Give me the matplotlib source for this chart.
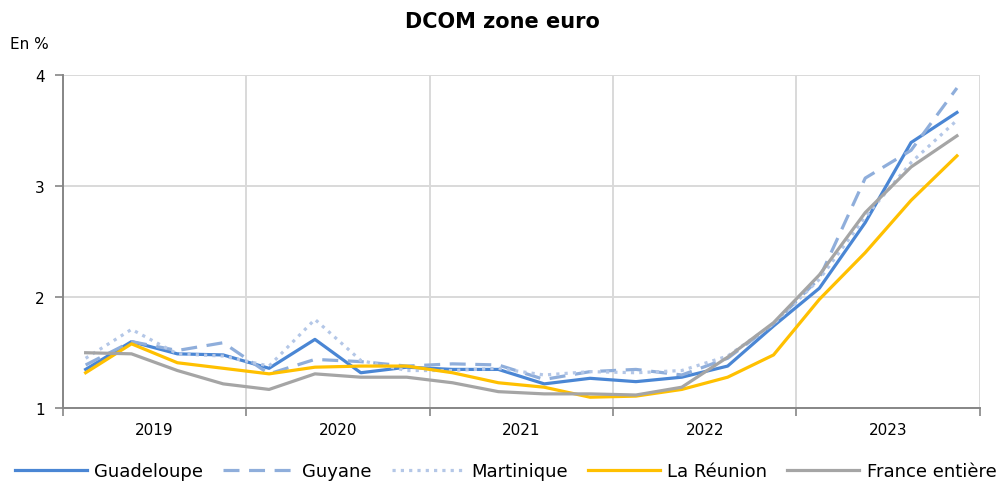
import matplotlib
matplotlib.use("Agg")
import matplotlib.pyplot as plt
import numpy as np

# quarterly values, 2019 Q1 -> 2023 Q4 (en %)
years = ["2019", "2020", "2021", "2022", "2023"]
guadeloupe = [1.35, 1.60, 1.49, 1.48, 1.36, 1.62, 1.32, 1.37, 1.35, 1.35,
              1.22, 1.27, 1.24, 1.28, 1.38, 1.74, 2.08, 2.67, 3.39, 3.66]
guyane = [1.39, 1.60, 1.52, 1.59, 1.31, 1.44, 1.42, 1.38, 1.40, 1.39,
          1.26, 1.33, 1.35, 1.30, 1.45, 1.76, 2.17, 3.07, 3.32, 3.88]
martinique = [1.45, 1.71, 1.49, 1.47, 1.38, 1.80, 1.43, 1.34, 1.34, 1.36,
              1.30, 1.33, 1.32, 1.34, 1.47, 1.76, 2.16, 2.72, 3.21, 3.59]
reunion = [1.32, 1.58, 1.41, 1.36, 1.31, 1.37, 1.38, 1.38, 1.32, 1.23,
           1.19, 1.10, 1.11, 1.17, 1.28, 1.48, 1.98, 2.40, 2.87, 3.27]
france = [1.50, 1.49, 1.34, 1.22, 1.17, 1.31, 1.28, 1.28, 1.23, 1.15,
          1.13, 1.13, 1.12, 1.19, 1.46, 1.77, 2.20, 2.76, 3.17, 3.45]

plt.rcParams['font.family'] = ['DejaVu Sans']

fig = plt.figure(figsize=(10.05, 4.85), dpi=100)
ax = fig.add_axes([0.0624, 0.156, 0.9126, 0.688])

x = np.arange(len(guadeloupe))
lw = 2.3
ax.plot(x, guadeloupe, color="#4A86D4", lw=lw, label="Guadeloupe")
ax.plot(x, guyane, color="#8FAEDB", lw=lw, ls=(0, (5, 3)), label="Guyane")
ax.plot(x, martinique, color="#B4C7E7", lw=lw, ls=(0, (1, 1.6)), label="Martinique")
ax.plot(x, reunion, color="#FFC000", lw=lw, label="La Réunion")
ax.plot(x, france, color="#A5A5A5", lw=lw, label="France entière")

ax.set_xlim(-0.5, 19.5)
ax.set_ylim(1, 4)
ax.set_yticks([1, 2, 3, 4])
ax.set_yticklabels(["1", "2", "3", "4"], fontsize=11)

ax.set_xticks(np.arange(-0.5, 20, 4))
ax.set_xticklabels([])
ax.set_xticks(np.arange(1.5, 20, 4), minor=True)
ax.set_xticklabels(years, minor=True, fontsize=11)
ax.tick_params(axis="x", which="minor", length=0, pad=10)
ax.tick_params(axis="x", which="major", length=6, width=1.2, color="#868686")
ax.tick_params(axis="y", length=6, width=1.2, color="#868686", pad=7)

ax.grid(True, which="major", color="#D9D9D9", lw=1.4)
ax.set_axisbelow(True)
for s in ["top", "right"]:
    ax.spines[s].set_visible(False)
for s in ["left", "bottom"]:
    ax.spines[s].set_color("#868686")
    ax.spines[s].set_linewidth(1.4)

fig.text(0.5, 0.955, "DCOM zone euro", ha="center", va="center",
         fontsize=15, fontweight="bold")
fig.text(0.01, 0.908, "En %", ha="left", va="center", fontsize=11)

fig.legend(loc="center", bbox_to_anchor=(0.503, 0.027), ncol=5, frameon=False,
           fontsize=13, handlelength=4.0, columnspacing=1.1, handletextpad=0.4)

fig.savefig("out.png", dpi=100)
